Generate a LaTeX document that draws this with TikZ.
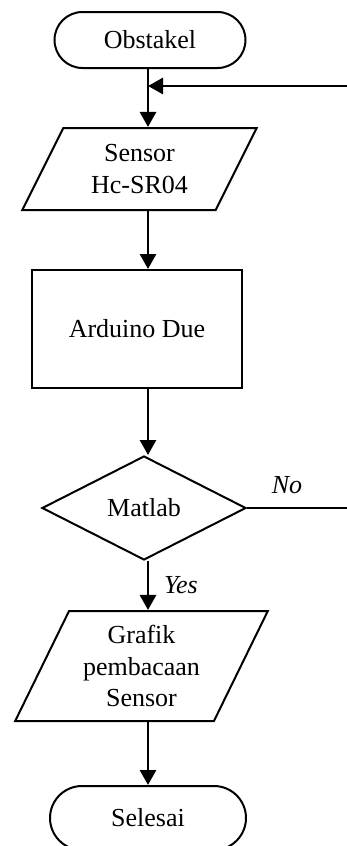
\documentclass[tikz,border=0pt]{standalone}
\usepackage{fontspec}
\setmainfont{Liberation Serif}
\usetikzlibrary{positioning,shapes.geometric,arrows.meta}

\begin{document}
\begin{tikzpicture}[x=0.5pt,y=-0.5pt,
  every node/.style={font=\fontsize{13}{15.8}\selectfont},
  term/.style={draw,line width=1pt,rounded corners=14pt,minimum height=28pt},
  io/.style={draw,line width=1pt,trapezium,trapezium stretches=true,
    trapezium left angle=62,trapezium right angle=118,align=center,inner sep=0pt},
  proc/.style={draw,line width=1pt,rectangle},
  dec/.style={draw,line width=1pt,diamond,inner sep=0pt},
  arr/.style={line width=1.4pt,-{Triangle[length=7.5pt,width=8pt]}},
  lab/.style={font=\fontsize{13}{15.8}\selectfont\itshape}]
\useasboundingbox (0,0) rectangle (347,846);
\clip (0,0) rectangle (347,846);
% main column of the flow
\coordinate (spine) at (148,0);
\node [term,minimum width=95.5pt] (obst) at (150,40) {Obstakel};
\node [io,minimum width=117.5pt,minimum height=41pt] (sens) at (139.5,169) {Sensor\\Hc-SR04};
\node [proc,minimum width=105pt,minimum height=59pt] (ard) at (137,329) {Arduino Due};
\node [dec,minimum width=102pt,minimum height=52pt] (mat) at (144,508) {Matlab};
\node [io,minimum width=126.5pt,minimum height=55pt] (graf) at (141.5,666) {Grafik\\pembacaan\\Sensor};
\node [term,minimum width=98pt,minimum height=32pt,rounded corners=16pt] (sel) at (148,818) {Selesai};
\coordinate (join) at (148,86);
% arrows
\draw [arr] (obst.south -| spine) -- (sens.north -| spine);
\draw [arr] (sens.south -| spine) -- (ard.north -| spine);
\draw [arr] (ard.south -| spine) -- (mat.north -| spine);
\draw [arr] (mat.south -| spine) -- (graf.north -| spine) node [lab,midway,right=4pt] (yes) {Yes};
\draw [arr] (graf.south -| spine) -- (sel.north -| spine);
% back to the sensor when No
\draw [arr] (mat.east) -- ++(200,0) |- (join);
\node [lab] (no) at (287,485) {No};
\end{tikzpicture}
\end{document}
